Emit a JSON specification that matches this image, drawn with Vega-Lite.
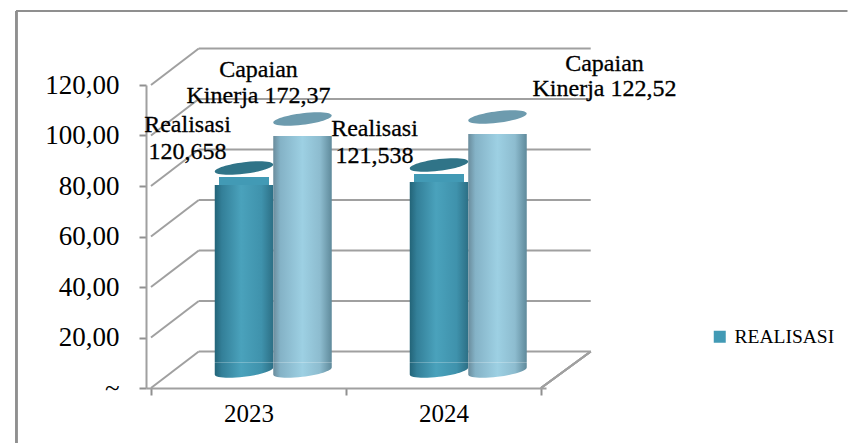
{
"$schema":"https://vega.github.io/schema/vega-lite/v6.json",
"width":400,"height":303,
"autosize":{"type":"none"},
"padding":{"left":146,"top":85,"right":314,"bottom":55},
"background":"white",
"config":{"view":{"stroke":null},"font":"Liberation Serif"},
"datasets":{
"bars":[
{"year":2023,"series":"REALISASI","value":80.4,"label":"Realisasi\n120,658"},
{"year":2023,"series":"Capaian Kinerja","value":99.8,"label":"Capaian\nKinerja 172,37"},
{"year":2024,"series":"REALISASI","value":81.6,"label":"Realisasi\n121,538"},
{"year":2024,"series":"Capaian Kinerja","value":100.6,"label":"Capaian\nKinerja 122,52"}
],
"ticks":[{"v":0},{"v":20},{"v":40},{"v":60},{"v":80},{"v":100},{"v":120}]
},
"data":{"name":"bars"},
"layer":[
{"data":{"name":"ticks"},
 "mark":{"type":"rule","color":"#a0a0a0","strokeWidth":2,"yOffset":-36.5,"y2Offset":-36.5},
 "encoding":{
  "x":{"datum":2022.745,"type":"quantitative","scale":{"domain":[2022.5,2024.5],"nice":false,"zero":false},
   "axis":{"values":[2022.5,2023,2023.5,2024,2024.5],"title":null,"grid":false,"domainColor":"#a0a0a0","domainWidth":2,"tickColor":"#909090","tickWidth":2,"tickSize":7,
    "tickOpacity":{"condition":{"test":"datum.value % 1 === 0","value":0},"value":1},
    "labelExpr":"datum.value % 1 === 0 ? format(datum.value,'d') : ''","labelFont":"Liberation Serif","labelFontSize":25,"labelColor":"#000","labelPadding":6,"labelOverlap":false}},
  "x2":{"datum":2024.755},
  "y":{"field":"v","type":"quantitative","scale":{"domain":[0,120],"nice":false,"zero":true},
   "axis":{"values":[0,20,40,60,80,100,120],"title":null,"grid":false,"domainColor":"#a0a0a0","domainWidth":2,"tickColor":"#909090","tickWidth":2,"tickSize":7,
    "labelExpr":"datum.value === 0 ? '~' : replace(format(datum.value,'.2f'),'.',',')","labelFont":"Liberation Serif","labelFontSize":27,"labelColor":"#000","labelPadding":20,"labelOverlap":false}},
  "y2":{"field":"v"}
 }},
{"data":{"name":"ticks"},
 "mark":{"type":"rule","color":"#a0a0a0","strokeWidth":2,"y2Offset":-36.5},
 "encoding":{"x":{"datum":2022.5,"type":"quantitative"},"x2":{"datum":2022.745},"y":{"field":"v","type":"quantitative"},"y2":{"field":"v"}}},
{"mark":{"type":"rule","color":"#a0a0a0","strokeWidth":2,"y2Offset":-36.5},
 "encoding":{"x":{"datum":2024.5,"type":"quantitative"},"x2":{"datum":2024.755},"y":{"datum":0,"type":"quantitative"},"y2":{"datum":0}}},
{"mark":{"type":"rule","color":"#8f8f8f","strokeWidth":2},
 "encoding":{"x":{"datum":2021.81,"type":"quantitative"},"y":{"datum":149.3,"type":"quantitative"},"y2":{"datum":-21.8}}},
{"mark":{"type":"rule","color":"#8f8f8f","strokeWidth":2},
 "encoding":{"x":{"datum":2021.81,"type":"quantitative"},"x2":{"datum":2026.07},"y":{"datum":149.3,"type":"quantitative"}}},

{"transform":[{"filter":"datum.series === 'REALISASI'"}],
 "mark":{"type":"bar","width":50,"xOffset":-4.5,"yOffset":-8,"y2Offset":-26},
 "encoding":{"x":{"field":"year","type":"quantitative"},"y":{"field":"value","type":"quantitative"},"y2":{"datum":0},
  "color":{"field":"series","type":"nominal","scale":{"domain":["REALISASI"],"range":["#429ab5"]},
   "legend":{"title":null,"orient":"none","legendX":564,"legendY":242,"symbolType":"square","symbolSize":144,"symbolStrokeWidth":0,"labelFont":"Liberation Serif","labelFontSize":19.5,"labelColor":"#000","labelOffset":5,"labelLimit":200}}}},
{"transform":[{"filter":"datum.series === 'REALISASI'"}],
 "mark":{"type":"point","filled":true,"opacity":1,"size":3422,"strokeWidth":0,"xOffset":-4.5,"yOffset":-17,
  "shape":"M -1 -.3 L 1 -.3 L 1 -.12 C 1 -.0095 .5523 .1337 0 .2 C -.5523 .2663 -1 .2305 -1 .12 Z",
  "fill":{"gradient":"linear","x1":0,"y1":0,"x2":1,"y2":0,"stops":[{"offset":0,"color":"#236478"},{"offset":0.12,"color":"#337f98"},{"offset":0.45,"color":"#4aa2bc"},{"offset":0.8,"color":"#3f92ac"},{"offset":1,"color":"#2c6f85"}]}},
 "encoding":{"x":{"field":"year","type":"quantitative"},"y":{"datum":0,"type":"quantitative"}}},
{"transform":[{"filter":"datum.series === 'REALISASI'"}],
 "mark":{"type":"bar","width":58.5,"xOffset":-4.5,"yOffset":0,"y2Offset":-26,
  "fill":{"gradient":"linear","x1":0,"y1":0,"x2":1,"y2":0,"stops":[{"offset":0,"color":"#236478"},{"offset":0.12,"color":"#337f98"},{"offset":0.45,"color":"#4aa2bc"},{"offset":0.8,"color":"#3f92ac"},{"offset":1,"color":"#2c6f85"}]}},
 "encoding":{"x":{"field":"year","type":"quantitative"},"y":{"field":"value","type":"quantitative"},"y2":{"datum":0}}},
{"transform":[{"filter":"datum.series === 'REALISASI'"}],
 "mark":{"type":"point","filled":true,"opacity":1,"size":3422,"strokeWidth":0,"xOffset":-4.5,"yOffset":-17,
  "shape":"M -1 .12 C -1 .0095 -.5523 -.1337 0 -.2 C .5523 -.2663 1 -.2305 1 -.12 C 1 -.0095 .5523 .1337 0 .2 C -.5523 .2663 -1 .2305 -1 .12 Z",
  "color":"#307488"},
 "encoding":{"x":{"field":"year","type":"quantitative"},"y":{"field":"value","type":"quantitative"}}},

{"transform":[{"filter":"datum.series === 'Capaian Kinerja'"}],
 "mark":{"type":"point","filled":true,"opacity":1,"size":3422,"strokeWidth":0,"xOffset":54,"yOffset":-17,
  "shape":"M -1 -.3 L 1 -.3 L 1 -.12 C 1 -.0095 .5523 .1337 0 .2 C -.5523 .2663 -1 .2305 -1 .12 Z",
  "fill":{"gradient":"linear","x1":0,"y1":0,"x2":1,"y2":0,"stops":[{"offset":0,"color":"#6a8c9c"},{"offset":0.12,"color":"#84b2c6"},{"offset":0.5,"color":"#9dd0e3"},{"offset":0.8,"color":"#8dbccf"},{"offset":1,"color":"#5f8a9b"}]}},
 "encoding":{"x":{"field":"year","type":"quantitative"},"y":{"datum":0,"type":"quantitative"}}},
{"transform":[{"filter":"datum.series === 'Capaian Kinerja'"}],
 "mark":{"type":"bar","width":58.5,"xOffset":54,"yOffset":0,"y2Offset":-26,
  "fill":{"gradient":"linear","x1":0,"y1":0,"x2":1,"y2":0,"stops":[{"offset":0,"color":"#6a8c9c"},{"offset":0.12,"color":"#84b2c6"},{"offset":0.5,"color":"#9dd0e3"},{"offset":0.8,"color":"#8dbccf"},{"offset":1,"color":"#5f8a9b"}]}},
 "encoding":{"x":{"field":"year","type":"quantitative"},"y":{"field":"value","type":"quantitative"},"y2":{"datum":0}}},
{"transform":[{"filter":"datum.series === 'Capaian Kinerja'"}],
 "mark":{"type":"point","filled":true,"opacity":1,"size":3422,"strokeWidth":0,"xOffset":54,"yOffset":-17,
  "shape":"M -1 .12 C -1 .0095 -.5523 -.1337 0 -.2 C .5523 -.2663 1 -.2305 1 -.12 C 1 -.0095 .5523 .1337 0 .2 C -.5523 .2663 -1 .2305 -1 .12 Z",
  "color":"#6d9bae"},
 "encoding":{"x":{"field":"year","type":"quantitative"},"y":{"field":"value","type":"quantitative"}}},

{"transform":[{"filter":"datum.series === 'REALISASI' && datum.year === 2023"}],
 "mark":{"type":"text","lineBreak":"\n","lineHeight":27,"font":"Liberation Serif","fontSize":24,"color":"#000","stroke":"#000","strokeWidth":0.3,"align":"center","baseline":"middle","xOffset":-61,"yOffset":-60},
 "encoding":{"x":{"field":"year","type":"quantitative"},"y":{"field":"value","type":"quantitative"},"text":{"field":"label"}}},
{"transform":[{"filter":"datum.series === 'REALISASI' && datum.year === 2024"}],
 "mark":{"type":"text","lineBreak":"\n","lineHeight":27,"font":"Liberation Serif","fontSize":24,"color":"#000","stroke":"#000","strokeWidth":0.3,"align":"center","baseline":"middle","xOffset":-69,"yOffset":-53},
 "encoding":{"x":{"field":"year","type":"quantitative"},"y":{"field":"value","type":"quantitative"},"text":{"field":"label"}}},
{"transform":[{"filter":"datum.series === 'Capaian Kinerja' && datum.year === 2023"}],
 "mark":{"type":"text","lineBreak":"\n","lineHeight":26,"font":"Liberation Serif","fontSize":24,"color":"#000","stroke":"#000","strokeWidth":0.3,"align":"center","baseline":"middle","xOffset":10,"yOffset":-66},
 "encoding":{"x":{"field":"year","type":"quantitative"},"y":{"field":"value","type":"quantitative"},"text":{"field":"label"}}},
{"transform":[{"filter":"datum.series === 'Capaian Kinerja' && datum.year === 2024"}],
 "mark":{"type":"text","lineBreak":"\n","lineHeight":25,"font":"Liberation Serif","fontSize":24,"color":"#000","stroke":"#000","strokeWidth":0.3,"align":"center","baseline":"middle","xOffset":161,"yOffset":-70},
 "encoding":{"x":{"field":"year","type":"quantitative"},"y":{"field":"value","type":"quantitative"},"text":{"field":"label"}}}
]
}
